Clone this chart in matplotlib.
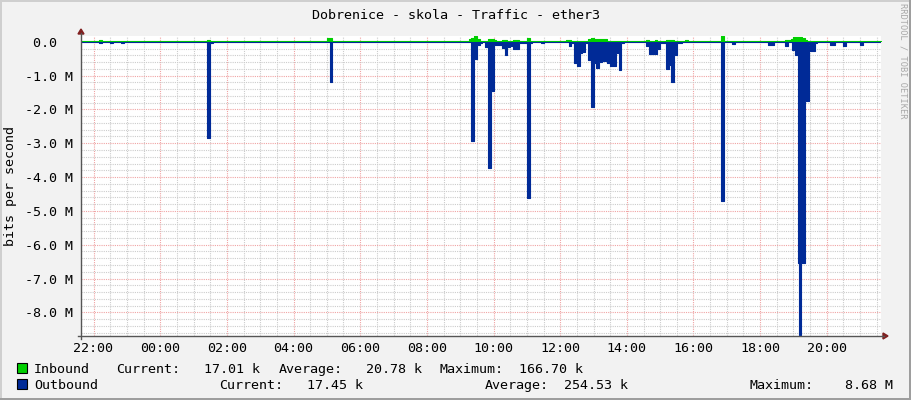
import numpy as np
import matplotlib
matplotlib.use("Agg")
import matplotlib.pyplot as plt
from matplotlib.lines import Line2D
from matplotlib.patches import Polygon, Rectangle
from matplotlib.ticker import FixedLocator

# traffic in Mbit/s, every value holds until the next timestamp
in_times = ["21:35", "22:10", "22:15", "01:25", "01:30", "05:00", "05:10",
            "09:15", "09:20", "09:25", "09:30", "09:35", "09:45", "09:50",
            "10:00", "10:05", "10:15", "10:25", "10:35", "10:45", "11:00",
            "11:05", "12:10", "12:20", "12:50", "12:55", "13:00", "13:25",
            "14:35", "14:40", "14:50", "14:55", "15:10", "15:25", "15:45",
            "15:50", "16:49", "16:55", "18:45", "18:55", "19:00", "19:05",
            "19:15", "19:20", "19:25", "19:30", "21:40"]
in_vals = [0.02, 0.04, 0.02, 0.06, 0.02, 0.12, 0.02,
           0.07, 0.10, 0.167, 0.08, 0.03, 0.02, 0.08,
           0.04, 0.02, 0.05, 0.02, 0.05, 0.02, 0.12,
           0.02, 0.05, 0.02, 0.08, 0.10, 0.08, 0.02,
           0.05, 0.02, 0.05, 0.02, 0.06, 0.02, 0.04,
           0.02, 0.16, 0.02, 0.04, 0.08, 0.13, 0.14,
           0.10, 0.06, 0.03, 0.02, 0.02]

out_times = ["21:35", "22:10", "22:15", "22:30", "22:35", "22:50", "22:55",
             "01:25", "01:30", "01:35", "05:05", "05:10",
             "09:20", "09:25", "09:30", "09:35", "09:40", "09:45", "09:50",
             "09:55", "10:00", "10:15", "10:20", "10:25", "10:30", "10:35",
             "10:40", "10:45", "11:00", "11:05", "11:10", "11:25", "11:30",
             "12:15", "12:20", "12:25", "12:30", "12:35", "12:40", "12:45",
             "12:50", "12:55", "13:00", "13:05", "13:10", "13:15", "13:25",
             "13:30", "13:40", "13:45", "13:50", "13:55",
             "14:35", "14:40", "14:55", "15:00", "15:10", "15:15", "15:20",
             "15:25", "15:30", "15:40", "16:50", "16:55", "17:00", "17:10",
             "17:15", "18:15", "18:25", "18:45", "18:50", "18:57", "19:03",
             "19:08", "19:10", "19:13", "19:20", "19:27", "19:30", "19:38",
             "19:42", "20:05", "20:15", "20:30", "20:35", "21:00", "21:05",
             "21:40"]
out_vals = [-0.017, -0.05, -0.017, -0.03, -0.017, -0.025, -0.017,
            -2.85, -0.05, -0.017, -1.19, -0.017,
            -2.92, -0.50, -0.10, -0.05, -0.017, -0.15, -3.73,
            -1.47, -0.10, -0.18, -0.40, -0.15, -0.12, -0.20,
            -0.22, -0.05, -4.61, -0.03, -0.017, -0.05, -0.017,
            -0.12, -0.03, -0.63, -0.73, -0.33, -0.30, -0.05,
            -0.53, -1.92, -0.63, -0.77, -0.60, -0.57, -0.63,
            -0.73, -0.33, -0.85, -0.03, -0.017,
            -0.12, -0.36, -0.20, -0.03, -0.81, -0.68, -1.20,
            -0.38, -0.03, -0.017, -4.71, -0.02, -0.017, -0.08,
            -0.017, -0.11, -0.017, -0.14, -0.017, -0.24, -0.38,
            -6.55, -8.68, -6.55, -1.74, -0.10, -0.26, -0.03,
            -0.017, -0.09, -0.017, -0.14, -0.017, -0.09, -0.017,
            -0.017]

x_tick_hours = [22, 24, 26, 28, 30, 32, 34, 36, 38, 40, 42, 44]
y_tick_vals = [0, -1, -2, -3, -4, -5, -6, -7, -8]

stat_names = ["Current:", "Average:", "Maximum:"]
in_stats = ["17.01 k", "20.78 k", "166.70 k"]
out_stats = ["17.45 k", "254.53 k", "8.68 M"]

GREEN = "#00CF00"
BLUE = "#002A97"
W, H = 911, 400
MONO = "DejaVu Sans Mono"
FS = 9.6


def to_hours(times):
    hrs = []
    day = 0
    for t in times:
        h, m = map(int, t.split(":"))
        v = h + m / 60 + day
        if hrs and v < hrs[-1]:
            day += 24
            v += 24
        hrs.append(v)
    return np.array(hrs)


def px(x, y):
    return x / W, 1 - y / H


fig = plt.figure(figsize=(W / 100, H / 100), dpi=100, facecolor="#F2F2F2")
ax = fig.add_axes([81 / W, 64 / H, 800 / W, 300 / H], facecolor="white")

t_in = to_hours(in_times)
t_out = to_hours(out_times)

ax.fill_between(t_in, 0, in_vals, step="post", color=GREEN, lw=0, zorder=3)
ax.step(t_in, in_vals, where="post", color=GREEN, lw=0.8, zorder=3)
ax.fill_between(t_out, 0, out_vals, step="post", color=BLUE, lw=0, zorder=4)
ax.step(t_out, out_vals, where="post", color=BLUE, lw=0.8, zorder=4)

ax.set_xlim(21 + 37.5 / 60, 45 + 37.5 / 60)
ax.set_ylim(-8.7, 0.17)

# grid: grey every 30 min / 0.2 M, red every 2 h / 1 M
xminor = [h for h in np.arange(22, 45.6, 0.5) if h not in x_tick_hours]
yminor = [v for v in np.round(np.arange(-8.6, 0.01, 0.2), 1) if v not in y_tick_vals]
ax.xaxis.set_major_locator(FixedLocator(x_tick_hours))
ax.xaxis.set_minor_locator(FixedLocator(xminor))
ax.yaxis.set_major_locator(FixedLocator(y_tick_vals))
ax.yaxis.set_minor_locator(FixedLocator(yminor))
ax.grid(which="minor", color="#CCCCCC", lw=0.8, ls=(0, (1, 1)), zorder=1)
ax.grid(which="major", color="#F0A4A4", lw=0.8, ls=(0, (1, 1)), zorder=1)
ax.set_axisbelow(True)

ax.set_xticklabels(["%02d:00" % (h % 24) for h in x_tick_hours],
                   family=MONO, fontsize=FS)
ax.set_yticklabels(["%.1f %s" % (v, "M" if v else " ") for v in y_tick_vals],
                   family=MONO, fontsize=FS)
ax.tick_params(which="both", length=0)
ax.tick_params(axis="x", pad=4)
ax.tick_params(axis="y", pad=6)
for s in ax.spines.values():
    s.set_visible(False)

# axes lines with arrows
fig.add_artist(Line2D(*zip(px(81, 339), px(81, 33)), color="#555555", lw=1))
fig.add_artist(Line2D(*zip(px(78, 336), px(884, 336)), color="#555555", lw=1))
fig.add_artist(Polygon([px(78, 34), px(84, 34), px(81, 29)], closed=True,
                       color="#801F1F", transform=fig.transFigure))
fig.add_artist(Polygon([px(883, 333), px(883, 339), px(888, 336)], closed=True,
                       color="#801F1F", transform=fig.transFigure))

# frame shading
for (x0, y0, w, h), c in [((0, 0, W, 2), "#CFCFCF"), ((0, 0, 2, H), "#CFCFCF"),
                          ((0, H - 2, W, 2), "#9E9E9E"), ((W - 2, 0, 2, H), "#9E9E9E")]:
    fig.add_artist(Rectangle((x0 / W, 1 - (y0 + h) / H), w / W, h / H,
                             transform=fig.transFigure, color=c, lw=0))

fig.text(*px(455.5, 19), "Dobrenice - skola - Traffic - ether3", family=MONO,
         fontsize=FS, ha="center", va="baseline")
fig.text(*px(10.5, 186), "bits per second", family=MONO, fontsize=FS,
         rotation=90, ha="center", va="center")
fig.text(*px(903, 61), "RRDTOOL / TOBI OETIKER", family=MONO, fontsize=6.2,
         color="#A8A8A8", rotation=270, ha="center", va="center")

# legend
rows = [("Inbound", GREEN, in_stats, 373, [116, 279, 440], [204.5, 366, 519]),
        ("Outbound", BLUE, out_stats, 389, [219.6, 485, 749.5], [307, 563.6, 845])]
for name, col, stats, yb, xn, xv in rows:
    fig.add_artist(Rectangle(px(17, yb), 10 / W, 10 / H, transform=fig.transFigure,
                             facecolor=col, edgecolor="black", lw=0.8))
    fig.text(*px(34, yb), name, family=MONO, fontsize=FS, va="baseline")
    for lab, val, a, b in zip(stat_names, stats, xn, xv):
        fig.text(*px(a, yb), lab, family=MONO, fontsize=FS, va="baseline")
        fig.text(*px(b, yb), val, family=MONO, fontsize=FS, va="baseline")

fig.savefig("out.png", dpi=100, facecolor=fig.get_facecolor())
